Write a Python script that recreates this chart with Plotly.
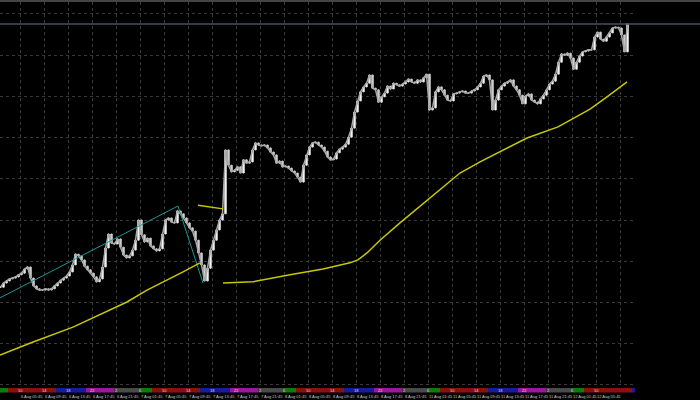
import plotly.graph_objects as go

# ---- data (x in chart-hours: 0 = 6 Aug 2025 00:00, weekend removed so 11 Aug 00:00 = 72) ----
bar_start_hour = 2.5
bar_step_hours = 0.5
closes = [
    143.37, 143.47, 143.52, 143.57, 143.59, 143.62, 143.67, 143.71, 143.81, 143.86,
    143.59, 143.40, 143.33, 143.30, 143.30, 143.33, 143.30, 143.33, 143.40, 143.47,
    143.54, 143.59, 143.64, 143.74, 143.91, 144.17, 144.13, 144.03, 143.88, 143.79,
    143.71, 143.62, 143.50, 143.57, 143.86, 144.32, 144.66, 144.44, 144.42, 144.54,
    144.34, 144.15, 144.08, 144.13, 144.27, 144.51, 145.00, 144.64, 144.47, 144.56,
    144.37, 144.30, 144.25, 144.30, 144.66, 145.00, 145.05, 144.95, 144.93, 145.22,
    145.15, 145.05, 144.93, 144.81, 144.73, 144.51, 144.20, 143.91, 143.52, 143.83,
    144.27, 144.51, 144.76, 145.00, 145.15, 146.70, 146.33, 146.17, 146.21, 146.29,
    146.14, 146.46, 146.38, 146.41, 146.70, 146.87, 146.82, 146.80, 146.82, 146.75,
    146.65, 146.58, 146.38, 146.43, 146.29, 146.31, 146.26, 146.19, 146.14, 146.04,
    145.92, 146.33, 146.58, 146.77, 146.87, 146.89, 146.82, 146.77, 146.67, 146.53,
    146.46, 146.48, 146.63, 146.72, 146.77, 146.84, 147.01, 147.23, 147.62, 147.89,
    148.11, 148.23, 148.32, 148.52, 148.20, 148.16, 147.86, 147.99, 148.08, 148.25,
    148.18, 148.32, 148.28, 148.25, 148.30, 148.35, 148.42, 148.35, 148.32, 148.40,
    148.35, 148.45, 148.54, 147.67, 147.72, 148.11, 148.23, 148.16, 148.03, 147.91,
    147.89, 148.06, 148.08, 148.11, 148.13, 148.08, 148.08, 148.13, 148.16, 148.23,
    148.32, 148.49, 148.52, 148.40, 147.67, 147.91, 148.16, 148.25, 148.32, 148.35,
    148.40, 148.25, 148.16, 148.03, 147.82, 148.01, 148.06, 147.91, 147.86, 147.82,
    147.94, 148.03, 148.16, 148.30, 148.37, 148.54, 148.83, 149.03, 149.00, 149.05,
    148.93, 148.66, 148.83, 148.98, 149.08, 149.10, 149.13, 149.13, 149.44, 149.56,
    149.39, 149.34, 149.44, 149.54, 149.66, 149.68, 149.66, 149.49, 149.08, 149.76,
]

ma_hours = [2.42, 7.92, 14.58, 20.25, 23.58, 26.92, 30.25, 32.92, 35.75, None,
            35.42, 39.58, None,
            39.58, 44.58, 50.75, 53.58, 56.25, 60.75, 62.08, 63.58, 65.75, 69.08,
            72.42, 75.75, 79.08, 82.42, 85.75, 90.25, 95.42, 100.75, 103.58, 106.92]
ma_values = [141.72, 142.04, 142.40, 142.79, 143.01, 143.30, 143.54, 143.74, 143.96, None,
             145.36, 145.27, None,
             143.47, 143.50, 143.67, 143.74, 143.81, 143.96, 144.03, 144.20, 144.51, 144.93,
             145.34, 145.75, 146.14, 146.41, 146.65, 146.99, 147.26, 147.69, 147.99, 148.35]

trend_hours = [2.42, 32.08, 36.25]
trend_values = [143.11, 145.34, 143.47]

time_labels = ["6 Aug 05:45", "6 Aug 09:45", "6 Aug 13:45", "6 Aug 17:45", "6 Aug 21:45",
               "7 Aug 01:45", "7 Aug 05:45", "7 Aug 09:45", "7 Aug 13:45", "7 Aug 17:45",
               "7 Aug 21:45", "8 Aug 01:45", "8 Aug 05:45", "8 Aug 09:45", "8 Aug 13:45",
               "8 Aug 17:45", "8 Aug 21:45", "11 Aug 01:45", "11 Aug 05:45", "11 Aug 09:45",
               "11 Aug 13:45", "11 Aug 17:45", "11 Aug 21:45", "12 Aug 01:45", "12 Aug 05:45"]
first_label_hour = 5.75
label_step_hours = 4

session_starts = [1.75, 3.75, 11.75, 16.75, 21.5]
session_ends = [3.75, 11.75, 16.75, 21.5, 25.75]
session_colors = ["#0f7a0f", "#8c1010", "#1a1aa0", "#9a189a", "#4a4a4a"]
grid_numbers = ["10", "14", "18", "22", "2", "6"]

x_range = [2.4167, 108.25]
y_range = [140.971, 150.291]

# ---- build ----
n = len(closes)
times = [bar_start_hour + bar_step_hours * i for i in range(n)]
opens = [closes[0]] + closes[:-1]
highs = [max(o, c) for o, c in zip(opens, closes)]
lows = [min(o, c) for o, c in zip(opens, closes)]

fig = go.Figure()
fig.add_trace(go.Scatter(x=times, y=closes, mode="lines",
                         line=dict(color="#a8a8a8", width=1.5), hoverinfo="skip"))
fig.add_trace(go.Candlestick(
    x=times, open=opens, high=highs, low=lows, close=closes,
    increasing=dict(line=dict(color="#e0e0e0", width=1), fillcolor="#ffffff"),
    decreasing=dict(line=dict(color="#d0d0d0", width=1), fillcolor="#c8c8c8"),
    whiskerwidth=0, hoverinfo="skip"))
fig.add_trace(go.Scatter(x=trend_hours, y=trend_values, mode="lines",
                         line=dict(color="#1e9696", width=1), hoverinfo="skip"))
fig.add_trace(go.Scatter(x=ma_hours, y=ma_values, mode="lines", connectgaps=False,
                         line=dict(color="#c8c800", width=1.5), hoverinfo="skip"))

shapes = []
# top frame line and bid line
shapes.append(dict(type="rect", xref="paper", yref="paper", x0=0, x1=700 / 635,
                   y0=1, y1=1 + 2 / 384, fillcolor="#444444", line=dict(width=0)))
shapes.append(dict(type="line", xref="paper", yref="y", x0=0, x1=700 / 635,
                   y0=closes[-1], y1=closes[-1], line=dict(color="#4a5056", width=1.5)))
# session colour band
for day in range(-1, 5):
    for s, e, col in zip(session_starts, session_ends, session_colors):
        x0 = max(day * 24 + s, x_range[0])
        x1 = min(day * 24 + e, x_range[1])
        if x1 <= x0:
            continue
        shapes.append(dict(type="rect", xref="x", yref="paper", x0=x0, x1=x1,
                           y0=-2 / 384, y1=-6.5 / 384, fillcolor=col, line=dict(width=0),
                           layer="above"))

annotations = []
for k, lab in enumerate(time_labels):
    h = first_label_hour + label_step_hours * k
    annotations.append(dict(x=h, y=-10 / 384, xref="x", yref="paper", text=lab,
                            showarrow=False, xanchor="left", yanchor="middle", xshift=-1,
                            font=dict(size=4, color="#c8c8c8", family="Liberation Sans")))
    annotations.append(dict(x=h, y=-4.2 / 384, xref="x", yref="paper",
                            text=grid_numbers[k % len(grid_numbers)],
                            showarrow=False, xanchor="center", yanchor="middle",
                            font=dict(size=4, color="#dddddd", family="Liberation Sans")))

fig.update_layout(
    width=700, height=400,
    margin=dict(l=0, r=65, t=2, b=14),
    paper_bgcolor="#000000", plot_bgcolor="#000000",
    showlegend=False,
    shapes=shapes, annotations=annotations,
    xaxis=dict(range=x_range, showgrid=True, gridcolor="#3a3a3a", griddash="dot",
               gridwidth=1, tick0=first_label_hour, dtick=label_step_hours,
               showticklabels=False, ticks="", zeroline=False, showline=False,
               rangeslider=dict(visible=False), fixedrange=True),
    yaxis=dict(range=y_range, showgrid=True, gridcolor="#3a3a3a", griddash="dot",
               gridwidth=1, tick0=140, dtick=1, showticklabels=False, ticks="",
               zeroline=False, showline=False, fixedrange=True),
)

fig.write_html("out.html", config={"displayModeBar": False},
               post_script="document.body.style.margin='0';document.body.style.padding='0';"
                           "document.body.style.background='#000';")
